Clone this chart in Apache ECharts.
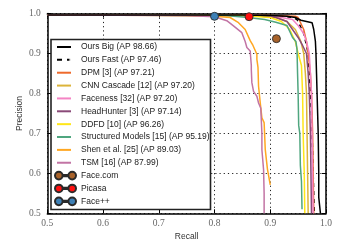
<!DOCTYPE html>
<html><head><meta charset="utf-8">
<script src="https://cdn.jsdelivr.net/npm/echarts@6/dist/echarts.min.js"></script>
<style>html,body{margin:0;padding:0;background:#fff}#c{width:343px;height:251px}</style>
</head><body><div id="c"></div>
<script>
var xTicks = [0.5, 0.6, 0.7, 0.8, 0.9, 1.0];
var yTicks = [0.5, 0.6, 0.7, 0.8, 0.9, 1.0];

var oursBig = [[0.5,0.996],[0.85,0.996],[0.90,0.995],[0.93,0.993],[0.945,0.99],[0.955,0.983],[0.965,0.98],[0.975,0.977],[0.978,0.96],[0.981,0.93],[0.982,0.90],[0.983,0.85],[0.984,0.80],[0.985,0.75],[0.986,0.70],[0.987,0.60],[0.987,0.54],[0.99,0.538],[0.99,0.5]];
var oursFast = [[0.5,0.996],[0.85,0.996],[0.92,0.994],[0.94,0.99],[0.948,0.985],[0.955,0.965],[0.96,0.95],[0.965,0.92],[0.968,0.90],[0.970,0.85],[0.972,0.80],[0.974,0.75],[0.975,0.70],[0.976,0.65],[0.977,0.60],[0.978,0.55],[0.979,0.5]];
var dpm = [[0.5,0.996],[0.9,0.995],[0.945,0.993],[0.95,0.99],[0.955,0.975],[0.96,0.96],[0.965,0.93],[0.968,0.90],[0.972,0.85],[0.974,0.80],[0.976,0.70],[0.977,0.60],[0.978,0.5]];
var cnnCascade = [[0.5,0.996],[0.87,0.995],[0.91,0.99],[0.93,0.98],[0.945,0.96],[0.955,0.93],[0.96,0.90],[0.963,0.85],[0.965,0.80],[0.966,0.70],[0.967,0.60],[0.968,0.5]];
var faceness = [[0.5,0.996],[0.88,0.995],[0.92,0.99],[0.94,0.985],[0.95,0.97],[0.96,0.95],[0.965,0.93],[0.97,0.90],[0.972,0.85],[0.974,0.80],[0.975,0.70],[0.976,0.60],[0.977,0.5]];
var headHunter = [[0.5,0.996],[0.87,0.995],[0.91,0.99],[0.93,0.98],[0.94,0.96],[0.95,0.94],[0.958,0.92],[0.965,0.90],[0.968,0.85],[0.97,0.80],[0.972,0.70],[0.973,0.60],[0.974,0.5]];
var ddfd = [[0.5,0.996],[0.85,0.995],[0.9,0.99],[0.92,0.98],[0.935,0.96],[0.945,0.93],[0.95,0.90],[0.956,0.87],[0.958,0.80],[0.959,0.70],[0.961,0.60],[0.962,0.5]];
var structured = [[0.5,0.996],[0.82,0.995],[0.86,0.99],[0.89,0.985],[0.91,0.978],[0.93,0.97],[0.935,0.955],[0.94,0.94],[0.946,0.93],[0.948,0.91],[0.949,0.85],[0.95,0.80],[0.951,0.72],[0.953,0.70],[0.954,0.62],[0.956,0.58],[0.957,0.51]];
var shen = [[0.5,0.996],[0.75,0.995],[0.80,0.993],[0.828,0.99],[0.843,0.977],[0.855,0.96],[0.864,0.932],[0.869,0.92],[0.876,0.898],[0.876,0.885],[0.878,0.865],[0.879,0.818],[0.882,0.777],[0.885,0.739],[0.889,0.727],[0.891,0.66],[0.895,0.61],[0.9,0.571]];
var tsm = [[0.5,0.996],[0.75,0.995],[0.80,0.992],[0.822,0.982],[0.834,0.969],[0.849,0.952],[0.855,0.93],[0.858,0.915],[0.864,0.906],[0.866,0.87],[0.866,0.86],[0.867,0.827],[0.87,0.805],[0.876,0.793],[0.879,0.776],[0.883,0.763],[0.885,0.70],[0.885,0.659],[0.888,0.609],[0.889,0.55],[0.889,0.5]];

var faceCom = [[0.911, 0.937]];
var picasa = [[0.862, 0.992]];
var facePP = [[0.800, 0.993]];

var lineNames = ['Ours Big (AP 98.66)','Ours Fast (AP 97.46)','DPM [3] (AP 97.21)','CNN Cascade [12] (AP 97.20)','Faceness [32] (AP 97.20)','HeadHunter [3] (AP 97.14)','DDFD [10] (AP 96.26)','Structured Models [15] (AP 95.19)','Shen et al. [25] (AP 89.03)','TSM [16] (AP 87.99)'];
var lineData = [oursBig, oursFast, dpm, cnnCascade, faceness, headHunter, ddfd, structured, shen, tsm];
var lineColors = ['#000000','#000000','#ee6a2c','#dcb43a','#f484c4','#8a4a78','#ffe619','#4fa67f','#ffa722','#c274a4'];
var markerNames = ['Face.com','Picasa','Face++'];
var markerData = [faceCom, picasa, facePP];
var markerColors = ['#a8622a','#ff1010','#3d80b6'];

var series = [];
lineData.forEach(function(d, i){
  series.push({
    name: lineNames[i], type: 'line', data: d, showSymbol: false, symbol: 'none',
    animation: false, z: 2 + (i===0?0.5:0),
    lineStyle: {color: lineColors[i], width: 1.5, type: i===1 ? [4,4] : 'solid'},
    itemStyle: {color: lineColors[i]}
  });
});
markerData.forEach(function(d, i){
  series.push({
    name: markerNames[i], type: 'scatter', data: d, symbolSize: 8, animation: false, z: 6,
    itemStyle: {color: markerColors[i], borderColor: '#2a2a2a', borderWidth: 0.9, opacity: 1}
  });
});

var twinIcon = 'path://M0.3,4A3.7,3.7,0,1,1,7.7,4A3.7,3.7,0,1,1,0.3,4ZM13.3,4A3.7,3.7,0,1,1,20.7,4A3.7,3.7,0,1,1,13.3,4ZM7.7,3.4L13.3,3.4L13.3,4.6L7.7,4.6Z';
var solidIcon = 'path://M0,0L14,0L14,2L0,2Z';
var dashIcon = 'path://M0,0L5,0L5,2L0,2ZM10,0L12.5,0L12.5,2L10,2ZM14,0L14,2L13.9,2L13.9,0Z';

var axFont = {fontFamily: 'Liberation Serif', fontSize: 9.5, color: '#666'};
function fmt(v){ return (+v).toFixed(1); }

var chart = echarts.init(document.getElementById('c'), null, {renderer: 'canvas'});
chart.setOption({
  animation: false,
  backgroundColor: '#fff',
  grid: {left: 47.3, top: 13.5, width: 278.7, height: 199.8, containLabel: false},
  xAxis: [{
    type: 'value', min: xTicks[0], max: xTicks[xTicks.length-1], interval: 0.1, position: 'bottom',
    name: 'Recall', nameLocation: 'middle', nameGap: 19, nameMoveOverlap: false,
    nameTextStyle: {fontFamily: 'Liberation Sans', fontSize: 8.5, color: '#333'},
    axisLine: {show: true, lineStyle: {color: '#000', width: 1.5}},
    axisTick: {show: true, inside: true, length: 4, lineStyle: {color: '#000', width: 1}},
    axisLabel: Object.assign({margin: 5, formatter: fmt}, axFont),
    splitLine: {show: true, lineStyle: {color: '#222', width: 1, type: [1.2, 3]}}
  },{
    type: 'value', min: xTicks[0], max: xTicks[xTicks.length-1], interval: 0.1, position: 'top',
    axisLine: {show: true, lineStyle: {color: '#000', width: 1.5}},
    axisTick: {show: true, inside: true, length: 4, lineStyle: {color: '#000', width: 1}},
    axisLabel: {show: false}, splitLine: {show: false}
  }],
  yAxis: [{
    type: 'value', min: yTicks[0], max: yTicks[yTicks.length-1], interval: 0.1, position: 'left',
    name: 'Precision', nameLocation: 'middle', nameGap: 23, nameMoveOverlap: false,
    nameTextStyle: {fontFamily: 'Liberation Sans', fontSize: 8.5, color: '#333'},
    axisLine: {show: true, lineStyle: {color: '#000', width: 1.5}},
    axisTick: {show: true, inside: true, length: 4, lineStyle: {color: '#000', width: 1}},
    axisLabel: Object.assign({margin: 6.5, formatter: fmt}, axFont),
    splitLine: {show: true, lineStyle: {color: '#222', width: 1, type: [1.2, 3]}}
  },{
    type: 'value', min: yTicks[0], max: yTicks[yTicks.length-1], interval: 0.1, position: 'right',
    axisLine: {show: true, lineStyle: {color: '#000', width: 1.5}},
    axisTick: {show: true, inside: true, length: 4, lineStyle: {color: '#000', width: 1}},
    axisLabel: {show: false}, splitLine: {show: false}
  }],
  graphic: [{
    type: 'rect', z: 3, silent: true,
    shape: {x: 51, y: 39.5, width: 159.5, height: 170},
    style: {fill: '#fff', stroke: '#222', lineWidth: 1.6}
  }],
  legend: [{
    data: lineNames.map(function(n, i){ return {name: n, icon: i===1 ? dashIcon : solidIcon, itemStyle: {color: lineColors[i], borderWidth: 0}}; }),
    orient: 'vertical', left: 57, top: 42, padding: 0,
    itemWidth: 14, itemHeight: 2, itemGap: 2.86, z: 5,
    textStyle: {fontFamily: 'Liberation Sans', fontSize: 8.5, color: '#222', lineHeight: 10, padding: [0,0,0,5]},
    selectedMode: false
  },{
    data: markerNames.map(function(n){ return {name: n, icon: twinIcon}; }),
    orient: 'vertical', left: 54, top: 170.6, padding: 0,
    itemWidth: 21, itemHeight: 8, itemGap: 2.86, z: 5,
    textStyle: {fontFamily: 'Liberation Sans', fontSize: 8.5, color: '#222', lineHeight: 10},
    selectedMode: false
  }],
  series: series
});
</script>
</body></html>
